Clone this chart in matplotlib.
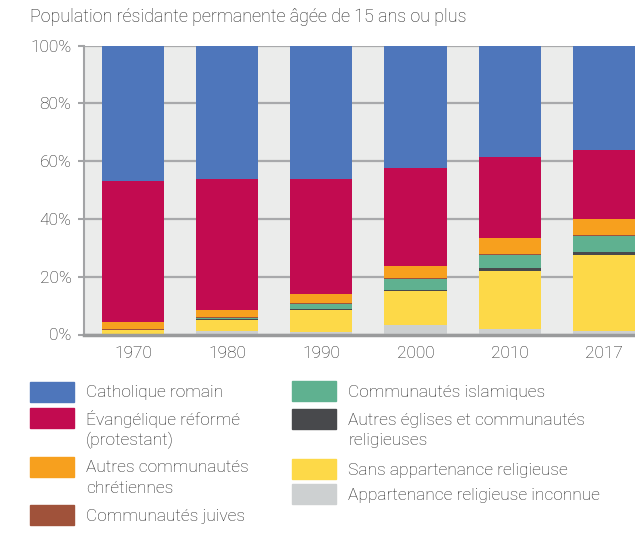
import matplotlib.pyplot as plt
from matplotlib.patches import Rectangle

plt.rcParams['font.family'] = ['Roboto', 'DejaVu Sans']

years = ['1970', '1980', '1990', '2000', '2010', '2017']

# stacked from the bottom upwards, in %
inconnue = [0.3, 1.2, 1.0, 3.3, 1.9, 1.2]
sans = [1.1, 3.8, 7.4, 11.7, 20.1, 26.3]
autres_eglises = [0.1, 0.2, 0.4, 0.4, 1.0, 1.0]
islam = [0.2, 0.6, 1.8, 3.8, 4.5, 5.6]
juives = [0.3, 0.3, 0.2, 0.2, 0.2, 0.2]
autres_chret = [2.3, 2.4, 3.2, 4.3, 5.7, 5.5]
reforme = [48.8, 45.3, 39.8, 33.9, 28.0, 24.2]
catholique = [46.9, 46.2, 46.2, 42.4, 38.6, 35.8]

series = [inconnue, sans, autres_eglises, islam, juives, autres_chret, reforme, catholique]
colors = ['#cdd0d1', '#fdd948', '#48494c', '#5fb190', '#a0523a', '#f7a01e', '#c20b50', '#4e76bb']

legend_left = [('Catholique romain', '#4e76bb'),
               ('Évangélique réformé\n(protestant)', '#c20b50'),
               ('Autres communautés\nchrétiennes', '#f7a01e'),
               ('Communautés juives', '#a0523a')]
legend_right = [('Communautés islamiques', '#5fb190'),
                ('Autres églises et communautés\nreligieuses', '#48494c'),
                ('Sans appartenance religieuse', '#fdd948'),
                ('Appartenance religieuse inconnue', '#cdd0d1')]

TXT = '#222222'
FS = 12.5

W, H = 635, 533
fig = plt.figure(figsize=(W / 100, H / 100), dpi=100)
ax = fig.add_axes([84 / W, 198.5 / H, (W - 84) / W, 289 / H])
ax.set_facecolor('#ebeceb')

x = range(len(years))
bottom = [0.0] * len(years)
for vals, c in zip(series, colors):
    ax.bar(x, vals, width=0.66, bottom=bottom, color=c, zorder=3)
    bottom = [b + v for b, v in zip(bottom, vals)]

ax.set_xlim(-0.52, 5.33)
ax.set_ylim(0, 100)
ax.set_yticks(range(0, 101, 20))
ax.set_yticklabels([f'{v}%' for v in range(0, 101, 20)])
ax.set_xticks(list(x))
ax.set_xticklabels(years)
ax.yaxis.grid(True, color='#a8a9ab', lw=1.6, zorder=1)
ax.set_axisbelow(True)
for s in ['top', 'right']:
    ax.spines[s].set_visible(False)
ax.spines['left'].set_color('#a3a4a6')
ax.spines['left'].set_linewidth(1.5)
ax.spines['bottom'].set_color('#9a9b9c')
ax.spines['bottom'].set_linewidth(2.5)
ax.spines['bottom'].set_zorder(4)
ax.tick_params(axis='y', length=4, width=1.5, color='#a3a4a6', pad=5,
               labelsize=FS, labelcolor=TXT)
ax.tick_params(axis='x', length=0, pad=8, labelsize=FS, labelcolor=TXT)
for lab in ax.get_xticklabels() + ax.get_yticklabels():
    lab.set_fontweight('light')

fig.text(30 / W, 1 - 17 / H, 'Population résidante permanente âgée de 15 ans ou plus',
         fontsize=12.85, fontweight='light', color=TXT, va='center', ha='left')

# legend, drawn by hand in two columns
def legend_col(items, px, tx, ys):
    for (label, c), y in zip(items, ys):
        fig.patches.append(Rectangle((px / W, 1 - (y + 10) / H), 44 / W, 20 / H,
                                     transform=fig.transFigure, color=c))
        for i, line in enumerate(label.split('\n')):
            fig.text(tx / W, 1 - (y + 1.5 + i * 20.7) / H, line, fontsize=FS,
                     fontweight='light', color=TXT, va='center', ha='left')

legend_col(legend_left, 30, 86, [391.5, 418, 466.5, 515])
legend_col(legend_right, 292, 348, [391, 418.5, 469, 494])

fig.savefig('out.png', dpi=100)
